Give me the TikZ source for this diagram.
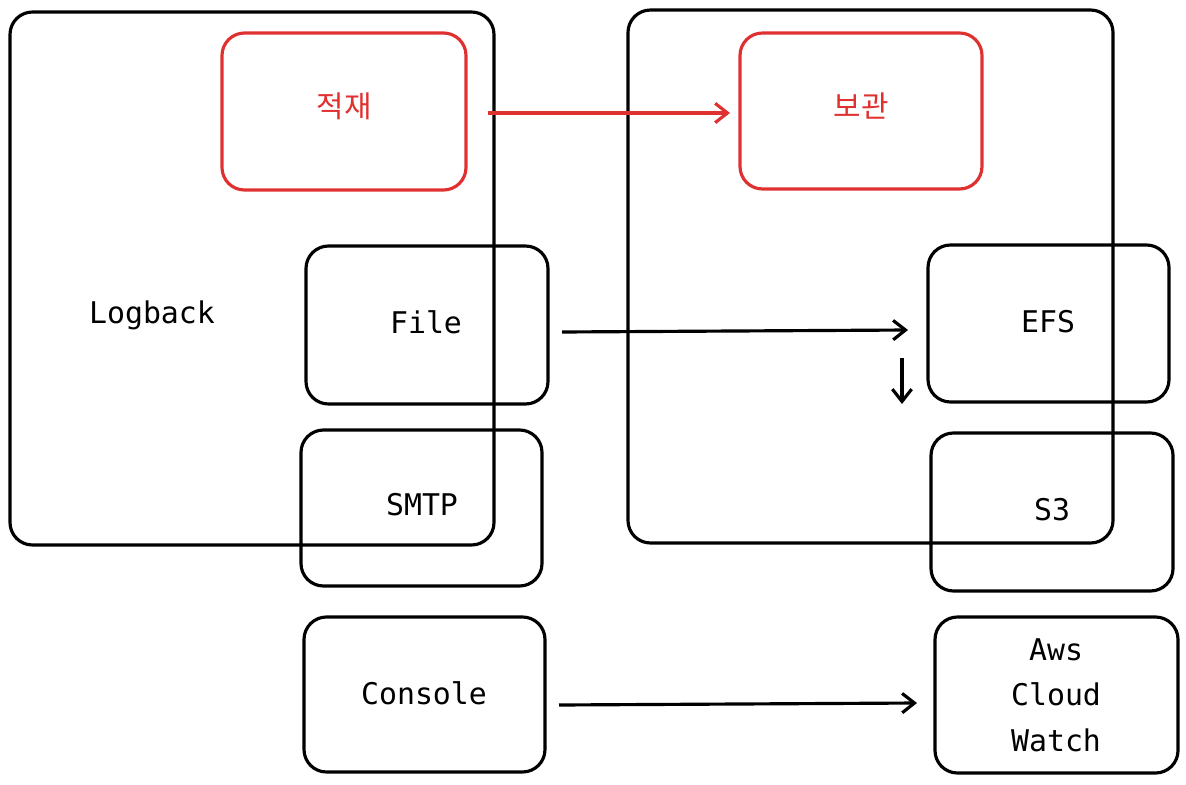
\documentclass[tikz,border=0pt]{standalone}
\usepackage{fontspec}
\setmainfont{DejaVu Sans Mono}
\newfontfamily\cjk{Noto Sans CJK KR}
\usetikzlibrary{arrows.meta}
\definecolor{sketchred}{RGB}{224,49,49}
\begin{document}
\begin{tikzpicture}[x=0.02cm,y=-0.02cm,
	box/.style={draw,line width=1.8pt,rounded corners=0.45cm},
	redbox/.style={box,draw=sketchred},
	lbl/.style={font=\fontsize{17}{26}\selectfont},
	arr/.style={-{Straight Barb[length=7pt,width=11pt]},line width=1.8pt}]
	\useasboundingbox (0,0) rectangle (1186,784);

	% containers
	\draw [box] (10,12) rectangle (494,545);
	\draw [box] (628,10) rectangle (1113,543);
	\node [lbl] (logback) at (152,315) {Logback};

	% appenders
	\draw [redbox] (222,33) rectangle (466,190);
	\node [lbl,text=sketchred] (load) at (344,106) {\cjk 적재};
	\draw [box] (306,246) rectangle (548,404);
	\node [lbl] (file) at (426,322) {File};
	\draw [box] (301,430) rectangle (542,586);
	\node [lbl] (smtp) at (422,505) {SMTP};
	\draw [box] (304,617) rectangle (545,772);
	\node [lbl] (console) at (424,693) {Console};

	% storage
	\draw [redbox] (740,33) rectangle (982,189);
	\node [lbl,text=sketchred] (keep) at (861,106) {\cjk 보관};
	\draw [box] (928,245) rectangle (1169,402);
	\node [lbl] (efs) at (1048,322) {EFS};
	\draw [box] (931,433) rectangle (1173,591);
	\node [lbl] (s3) at (1052,510) {S3};
	\draw [box] (935,617) rectangle (1178,773);
	\node [lbl,align=center] (cw) at (1056,695) {Aws\\Cloud\\Watch};

	% connectors
	\coordinate (loadR) at (488,113);
	\coordinate (keepL) at (730,113);
	\coordinate (fileR) at (562,332);
	\coordinate (efsL) at (908,330);
	\coordinate (efsB) at (902,358);
	\coordinate (s3T) at (902,404);
	\coordinate (consoleR) at (559,705);
	\coordinate (cwL) at (917,703);
	\draw [arr,sketchred] (loadR) -- (keepL);
	\draw [arr] (fileR) -- (efsL);
	\draw [arr] (efsB) -- (s3T);
	\draw [arr] (consoleR) -- (cwL);
\end{tikzpicture}
\end{document}
